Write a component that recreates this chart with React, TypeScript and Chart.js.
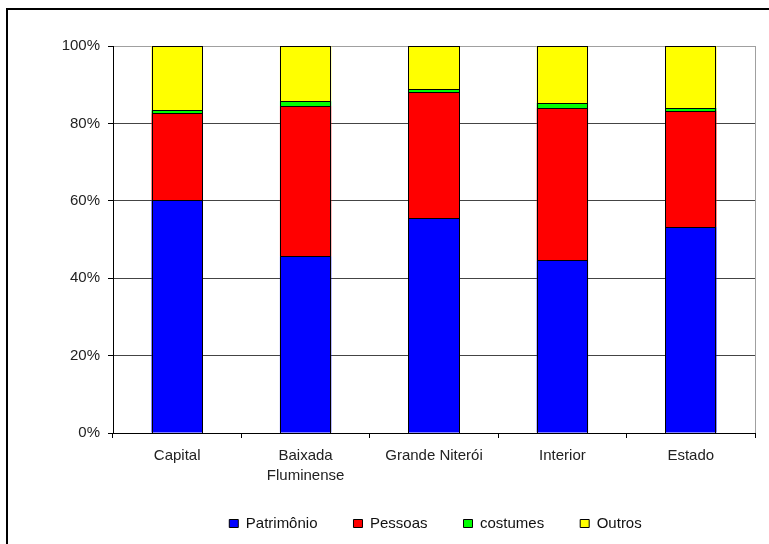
import React, { useEffect, useRef } from "react";
import { Chart, registerables } from "chart.js";

Chart.register(...registerables);

const categories: (string | string[])[] = [
  "Capital",
  ["Baixada", "Fluminense"],
  "Grande Niterói",
  "Interior",
  "Estado",
];
const patrimonio = [60.1, 45.7, 55.5, 44.6, 53.2];
const pessoas = [22.5, 38.8, 32.5, 39.4, 30.0];
const costumes = [0.8, 1.2, 0.8, 1.3, 0.8];
const outros = [16.6, 14.3, 11.2, 14.7, 16.0];
const yTicks = [0, 20, 40, 60, 80, 100];

const FONT = "'Liberation Sans', Arial, sans-serif";

const framePlugin = {
  id: "frame",
  afterLayout(chart: any) {
    const lg = chart.legend;
    if (lg) {
      lg.left += 58;
      lg.right += 58;
      lg.top -= 4;
      lg.bottom -= 4;
    }
  },
  beforeDraw(chart: any) {
    const { ctx } = chart;
    ctx.save();
    ctx.fillStyle = "#ffffff";
    ctx.fillRect(0, 0, chart.width, chart.height);
    ctx.strokeStyle = "#000";
    ctx.lineWidth = 2;
    ctx.strokeRect(7, 9, chart.width + 20, chart.height + 20);
    ctx.restore();
  },
  afterDatasetsDraw(chart: any) {
    const { ctx, chartArea } = chart;
    ctx.save();
    ctx.strokeStyle = "#000";
    ctx.lineWidth = 1;
    chart.data.datasets.forEach((_: any, i: number) => {
      const meta = chart.getDatasetMeta(i);
      meta.data.forEach((el: any) => {
        const { x, y, base, width } = el.getProps(["x", "y", "base", "width"], true);
        const l = Math.round(x - width / 2);
        const r = Math.round(x + width / 2);
        const t = Math.round(Math.min(y, base));
        const b = Math.round(Math.max(y, base));
        ctx.strokeRect(l + 0.5, t + 0.5, r - l - 1, b - t);
      });
    });
    ctx.strokeStyle = "#a0a0a0";
    ctx.beginPath();
    ctx.moveTo(chartArea.right + 0.5, chartArea.top);
    ctx.lineTo(chartArea.right + 0.5, chartArea.bottom);
    ctx.stroke();
    ctx.restore();
  },
};

export default function App() {
  const ref = useRef<HTMLCanvasElement>(null);
  useEffect(() => {
    if (!ref.current) return;
    const mk = (label: string, data: number[], color: string) => ({
      label,
      data,
      backgroundColor: color,
      borderColor: "#000",
      borderWidth: 0,
      borderSkipped: false,
      barPercentage: 0.4,
      categoryPercentage: 1,
    });
    const chart = new Chart(ref.current, {
      type: "bar",
      data: {
        labels: categories as any,
        datasets: [
          mk("Patrimônio", patrimonio, "#0000ff"),
          mk("Pessoas", pessoas, "#ff0000"),
          mk("costumes", costumes, "#00ff00"),
          mk("Outros", outros, "#ffff00"),
        ],
      },
      options: {
        animation: false,
        responsive: false,
        devicePixelRatio: 1,
        layout: { padding: { top: 46, right: 14, left: 0, bottom: -1 } },
        plugins: {
          tooltip: { enabled: false },
          legend: {
            position: "bottom",
            labels: {
              boxWidth: 9,
              boxHeight: 8,
              padding: 36,
              color: "#111",
              font: { family: FONT, size: 15 },
              generateLabels: (c: any) =>
                Chart.defaults.plugins.legend.labels
                  .generateLabels(c)
                  .map((it: any) => ({ ...it, lineWidth: 1, strokeStyle: "#000" })),
            },
          },
        },
        scales: {
          x: {
            stacked: true,
            offset: true,
            grid: {
              display: true,
              drawOnChartArea: false,
              offset: true,
              tickLength: 5,
              tickColor: "#000",
            },
            border: { color: "#000", width: 1 },
            ticks: {
              color: "#222",
              padding: 8,
              maxRotation: 0,
              autoSkip: false,
              font: { family: FONT, size: 15, lineHeight: 1.33 },
            },
            afterFit: (s: any) => {
              s.height = 51;
            },
          },
          y: {
            stacked: true,
            min: 0,
            max: 100,
            afterBuildTicks: (s: any) => {
              s.ticks = yTicks.map((v) => ({ value: v }));
            },
            grid: {
              color: (c: any) => (c.tick && c.tick.value === 100 ? "#a0a0a0" : "#444"),
              tickColor: "#000",
              tickLength: 5,
            },
            border: { color: "#000", width: 1 },
            ticks: {
              color: "#222",
              padding: 8,
              font: { family: FONT, size: 15 },
              callback: (v: any) => v + "%",
            },
            afterFit: (s: any) => {
              s.width = 113;
            },
          },
        },
      },
      plugins: [framePlugin],
    });
    return () => chart.destroy();
  }, []);
  return (
    <div style={{ position: "fixed", left: 0, top: 0, width: 769, height: 544 }}>
      <canvas ref={ref} width={769} height={544} style={{ display: "block" }} />
    </div>
  );
}
